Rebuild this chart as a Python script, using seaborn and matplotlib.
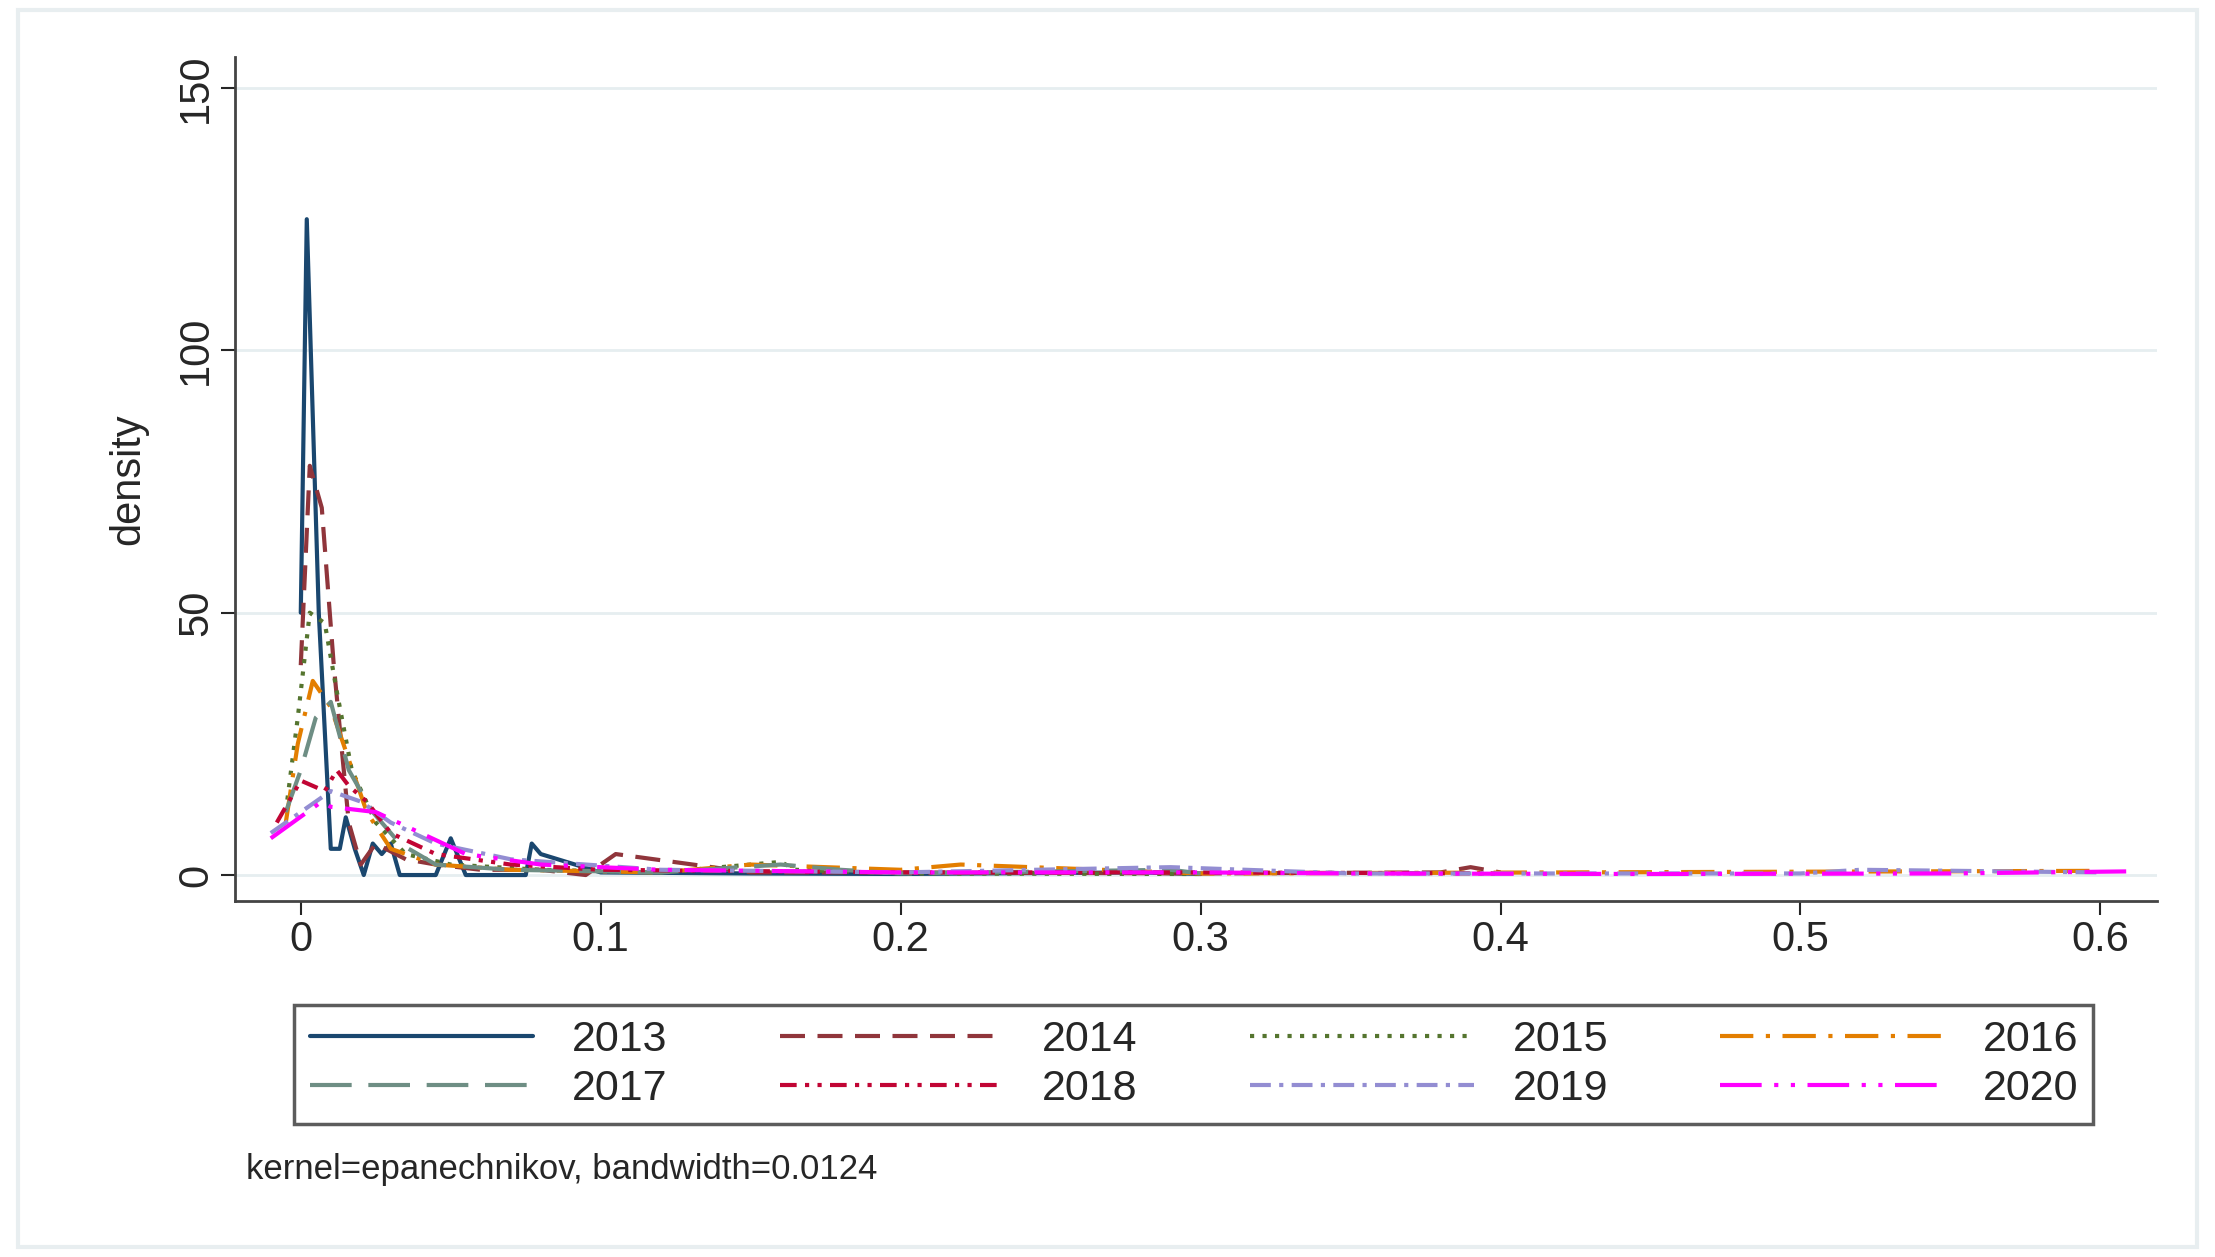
import numpy as np
import pandas as pd
import seaborn as sns
import matplotlib.pyplot as plt

# values (approximate)
years = ["2013", "2014", "2015", "2016", "2017", "2018", "2019", "2020"]

x2013 = [0.0, 0.002, 0.006, 0.010, 0.013, 0.015, 0.018, 0.021, 0.024, 0.027, 0.030, 0.033, 0.045, 0.050, 0.055, 0.075, 0.077, 0.080, 0.100, 0.150, 0.200, 0.280, 0.300]
y2013 = [50, 125, 50, 5, 5, 11, 5, 0, 6, 4, 6, 0, 0, 7, 0, 0, 6, 4, 0.5, 0.3, 0.2, 0.5, 0.2]
x2014 = [0.0, 0.003, 0.007, 0.011, 0.016, 0.020, 0.025, 0.035, 0.045, 0.060, 0.080, 0.095, 0.100, 0.105, 0.150, 0.200, 0.300, 0.380, 0.390, 0.400]
y2014 = [40, 78, 70, 40, 10, 2, 6, 3, 2, 1, 1, 0, 2, 4, 0.5, 0.5, 0.3, 0.5, 1.5, 0.5]
x2015 = [-0.005, -0.001, 0.003, 0.008, 0.012, 0.017, 0.025, 0.035, 0.050, 0.080, 0.120, 0.160, 0.165, 0.200, 0.300]
y2015 = [12, 30, 50, 48, 35, 20, 10, 4, 2, 1, 0.5, 2.5, 1, 0.3, 0.2]
x2016 = [-0.005, -0.001, 0.004, 0.010, 0.016, 0.022, 0.030, 0.045, 0.070, 0.120, 0.150, 0.200, 0.220, 0.300, 0.600]
y2016 = [10, 25, 37, 32, 22, 12, 5, 2, 1, 0.5, 2, 1, 2, 0.3, 0.8]
x2017 = [-0.005, 0.0, 0.005, 0.010, 0.016, 0.024, 0.033, 0.045, 0.070, 0.120, 0.160, 0.180, 0.200, 0.290, 0.300]
y2017 = [12, 20, 30, 33, 20, 12, 6, 2, 1, 0.5, 2, 1, 0.3, 1, 0.3]
x2018 = [-0.008, 0.0, 0.008, 0.012, 0.016, 0.022, 0.030, 0.045, 0.070, 0.100, 0.200, 0.300, 0.400]
y2018 = [10, 18, 16, 20, 17, 14, 8, 4, 2, 1, 0.5, 0.5, 0.3]
x2019 = [-0.010, 0.0, 0.010, 0.020, 0.030, 0.045, 0.070, 0.120, 0.200, 0.290, 0.350, 0.500, 0.520, 0.600]
y2019 = [8, 12, 16, 14, 10, 6, 3, 1, 0.5, 1.5, 0.3, 0.3, 1, 0.5]
x2020 = [-0.010, 0.007, 0.010, 0.025, 0.040, 0.055, 0.080, 0.120, 0.200, 0.300, 0.350, 0.450, 0.550, 0.610]
y2020 = [7, 14, 13, 12, 8, 4, 2, 1, 0.5, 0.5, 0.3, 0.2, 0.3, 0.7]

xs = [x2013, x2014, x2015, x2016, x2017, x2018, x2019, x2020]
ys = [y2013, y2014, y2015, y2016, y2017, y2018, y2019, y2020]

colors = ["#1a476f", "#90353b", "#55752f", "#e37e00", "#6e8e84", "#c10534", "#938dd2", "#ff00ff"]
dashes = ["-", (0, (6, 3)), (0, (1, 2)), (0, (8, 3, 1, 3)), (0, (10, 4)),
          (0, (4, 2, 1, 2, 1, 2)), (0, (5, 2, 1, 2)), (0, (10, 3, 1, 3, 1, 3))]

frames = [pd.DataFrame({"x": x, "density": y, "year": yr}) for x, y, yr in zip(xs, ys, years)]
dataFrame = pd.concat(frames, ignore_index=True)

sns.set_theme(style="white")
plt.rcParams["font.family"] = ["Liberation Sans", "DejaVu Sans"]

fig = plt.figure(figsize=(22.15, 12.57), dpi=100)
ax = fig.add_axes([0.106, 0.283, 0.868, 0.672])

sns.lineplot(data=dataFrame, x="x", y="density", hue="year", palette=colors,
             sort=False, estimator=None, ax=ax, linewidth=3, legend=False)
for line, ls in zip(ax.get_lines(), dashes):
    line.set_linestyle(ls)

ax.set_xlim(-0.022, 0.619)
ax.set_ylim(-5, 156)
ax.set_xticks([0, 0.1, 0.2, 0.3, 0.4, 0.5, 0.6])
ax.set_xticklabels(["0", "0.1", "0.2", "0.3", "0.4", "0.5", "0.6"])
ax.set_yticks([0, 50, 100, 150])
ax.tick_params(axis="y", labelrotation=90, labelsize=30, length=10, width=1.5, left=True)
ax.tick_params(axis="x", labelsize=30, length=10, width=1.5, bottom=True)
for lbl in ax.get_yticklabels():
    lbl.set_va("center")
ax.grid(axis="y", color="#e6eef0", linewidth=2)
ax.set_xlabel("")
ax.set_ylabel("density", fontsize=30, labelpad=20)
for side in ["top", "right"]:
    ax.spines[side].set_visible(False)
for side in ["left", "bottom"]:
    ax.spines[side].set_color("#444444")
    ax.spines[side].set_linewidth(2)

# legend fills row-wise like the reference: reorder for column-major filling
order = [0, 4, 1, 5, 2, 6, 3, 7]
handles = [plt.Line2D([], [], color=colors[i], linestyle=dashes[i], linewidth=3) for i in order]
labels = [years[i] for i in order]
leg = fig.legend(handles, labels, loc="center", bbox_to_anchor=(0.539, 0.153), ncol=4,
                 fontsize=31, frameon=True, fancybox=False, handlelength=5.2,
                 handletextpad=0.9, columnspacing=2.6, borderpad=0.35, labelspacing=0.2)
leg.get_frame().set_edgecolor("#333333")
leg.get_frame().set_linewidth(2.5)

fig.text(0.111, 0.062, "kernel=epanechnikov, bandwidth=0.0124", fontsize=25)
fig.patches.append(plt.Rectangle((0.008, 0.008), 0.984, 0.984, transform=fig.transFigure,
                                 fill=False, edgecolor="#e8eef0", linewidth=3))

fig.savefig("out.png", dpi=100)
